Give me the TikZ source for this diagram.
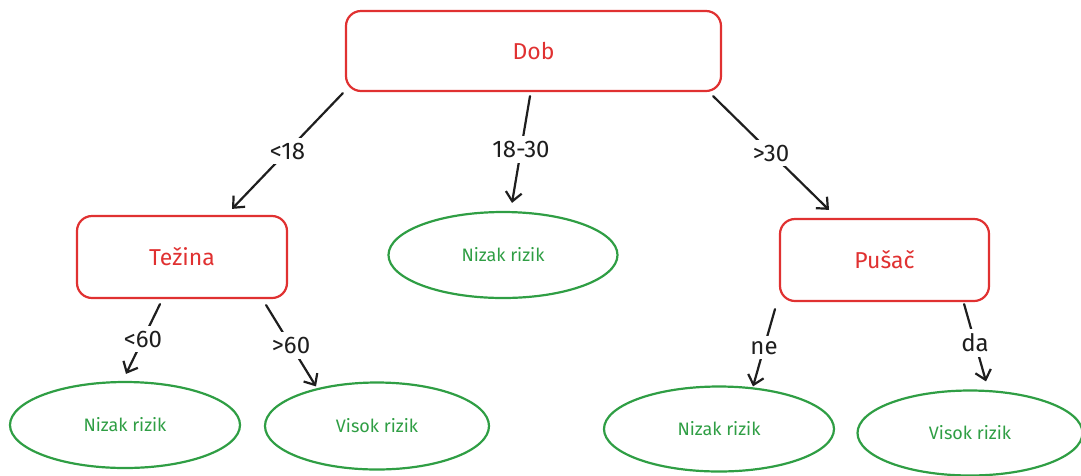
\documentclass[tikz,border=0pt]{standalone}
\usepackage{fontspec}
\setmainfont{Fira Sans}
\usetikzlibrary{arrows.meta,shapes.geometric}
\definecolor{exred}{HTML}{E03131}
\definecolor{exgreen}{HTML}{2F9E44}
\definecolor{exblack}{HTML}{1E1E1E}
\begin{document}
\begin{tikzpicture}[x=1pt,y=-1pt,
  decision/.style={draw=exred, line width=2.2pt, rounded corners=15pt, text=exred,
    font=\fontsize{23}{26}\selectfont, inner sep=0pt},
  leaf/.style={draw=exgreen, ellipse, line width=2.2pt, text=exgreen,
    font=\fontsize{18}{21}\selectfont, inner sep=0pt},
  conn/.style={draw=exblack, line width=2.2pt, line cap=round,
    -{Straight Barb[length=9pt,width=16pt,line width=2.2pt]}},
  lbl/.style={fill=white, text=exblack, inner xsep=2pt, inner ysep=5pt,
    font=\fontsize{24}{27}\selectfont}
]
\useasboundingbox (0,0) rectangle (1081,475);
% decision nodes
\node[decision, minimum width=375pt, minimum height=80pt] (dob) at (533.5,51) {Dob};
\node[decision, minimum width=210pt, minimum height=82pt] (tez) at (182,257) {Težina};
\node[decision, minimum width=209pt, minimum height=82pt] (pus) at (884.5,260) {Pušač};
% leaves
\node[leaf, minimum width=229pt, minimum height=86pt] (mid) at (503,255) {Nizak rizik};
\node[leaf, minimum width=230pt, minimum height=86pt] (nl) at (125,425) {Nizak rizik};
\node[leaf, minimum width=224pt, minimum height=87pt] (vl) at (377,426) {Visok rizik};
\node[leaf, minimum width=230pt, minimum height=85pt] (nr) at (719,429) {Nizak rizik};
\node[leaf, minimum width=225pt, minimum height=85pt] (vr) at (970,433) {Visok rizik};
% connectors
\draw[conn] ([xshift=-2pt,yshift=-1pt]dob.south west) -- node[lbl]{<18} ([xshift=50pt,yshift=6pt]tez.north);
\draw[conn] ([xshift=-3.5pt,yshift=-4pt]dob.south) -- node[lbl]{18-30} ([xshift=9pt,yshift=8pt]mid.north);
\draw[conn] ([xshift=-9pt,yshift=-4pt]dob.south east) -- node[lbl]{>30} ([xshift=-55.5pt,yshift=8pt]pus.north);
\draw[conn] ([xshift=-22pt,yshift=-5pt]tez.south) -- node[lbl]{<60} ([xshift=1pt,yshift=7pt]nl.north);
\draw[conn] ([xshift=-22pt,yshift=-6pt]tez.south east) -- node[lbl]{>60} ([xshift=-61pt,yshift=-5pt]vl.north);
\draw[conn] ([xshift=-109.5pt,yshift=-7pt]pus.south) -- node[lbl]{ne} ([xshift=34pt,yshift=-1pt]nr.north);
\draw[conn] ([xshift=-26pt,yshift=-2pt]pus.south east) -- node[lbl]{da} ([xshift=16pt,yshift=8pt]vr.north);
\end{tikzpicture}
\end{document}
